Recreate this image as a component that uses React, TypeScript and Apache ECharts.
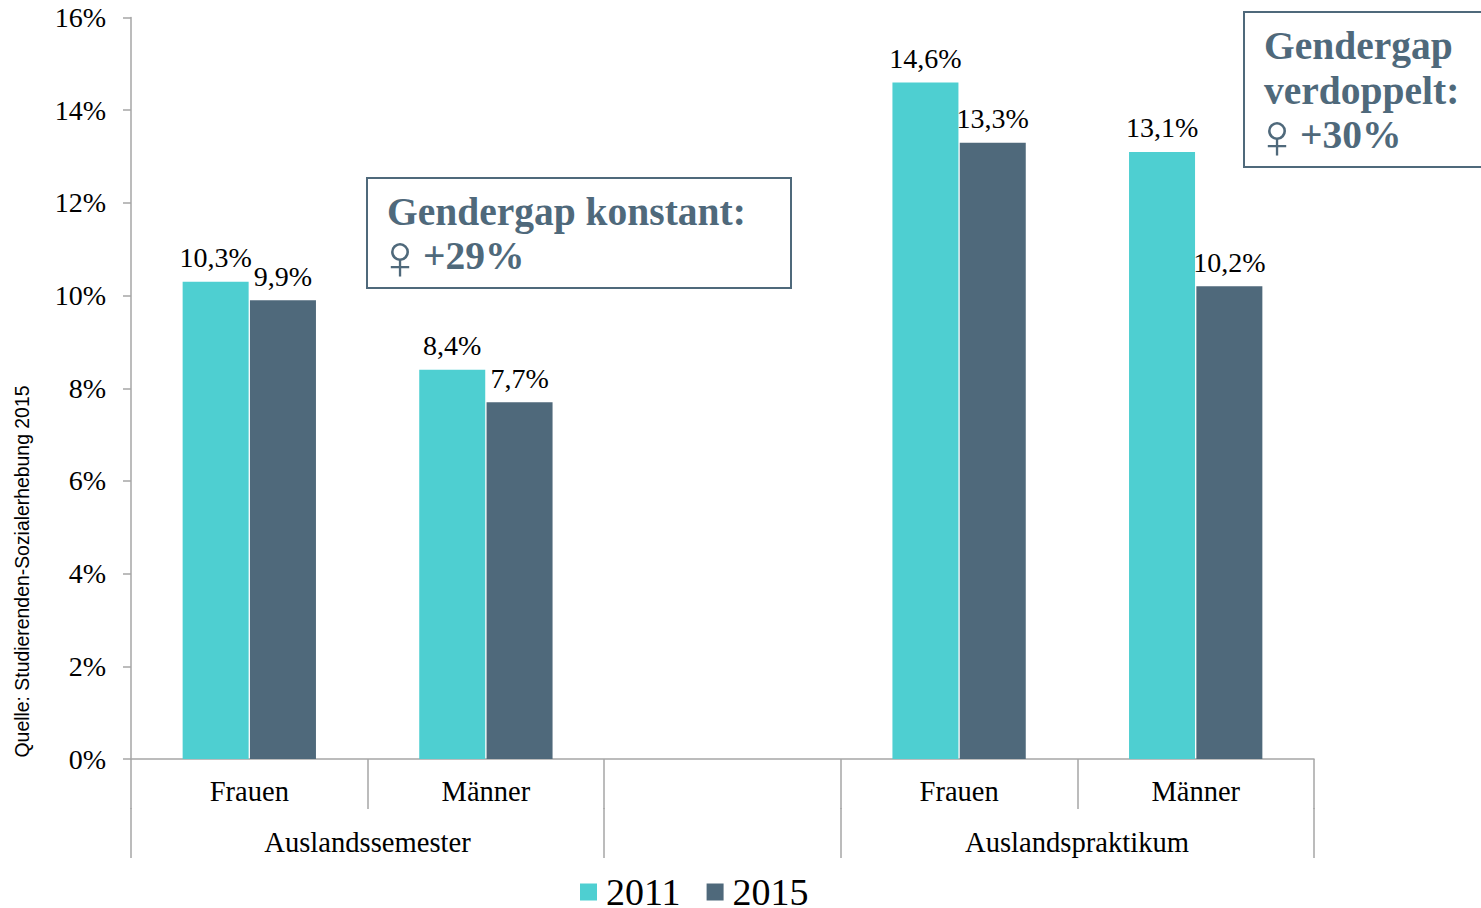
import React, { useEffect, useRef } from "react";
import * as echarts from "echarts";

const categories = ["Frauen", "Männer", "", "Frauen", "Männer"];
const values2011 = [10.3, 8.4, null, 14.6, 13.1];
const values2015 = [9.9, 7.7, null, 13.3, 10.2];
const groups = ["Auslandssemester", "Auslandspraktikum"];
const source = "Quelle: Studierenden-Sozialerhebung 2015";

const TEAL = "#4ECFD1";
const SLATE = "#4F697B";
const AXIS = "#A6A6A6";
const SERIF = "'Liberation Serif', serif";

const fmt = (p: any) => String(p.value).replace(".", ",") + "%";

const box = (x: number, y: number, w: number, h: number) => ({
  type: "rect", shape: { x, y, width: w, height: h },
  style: { fill: "#fff", stroke: SLATE, lineWidth: 2 },
});
const boldText = (x: number, y: number, text: string) => ({
  type: "text", x, y, z: 5,
  style: { text, fill: SLATE, font: `bold 39.5px ${SERIF}`, textVerticalAlign: "middle" },
});
const venus = (x: number, y: number) => ({
  type: "text", x, y, z: 5,
  style: { text: "♀", fill: SLATE, font: `200 64px 'DejaVu Sans'`, lineHeight: 34, textAlign: "center", textVerticalAlign: "middle" },
});
const vline = (x: number) => ({
  type: "line", shape: { x1: x, y1: 808, x2: x, y2: 858 },
  style: { stroke: AXIS, lineWidth: 1.5 },
});
const groupLabel = (x: number, text: string) => ({
  type: "text", x, y: 842,
  style: { text, fill: "#000", font: `28.6px ${SERIF}`, textAlign: "center", textVerticalAlign: "middle" },
});

export default function App() {
  const ref = useRef<HTMLDivElement>(null);
  useEffect(() => {
    document.body.style.margin = "0";
    const chart = echarts.init(ref.current!, null, { renderer: "svg" });
    const label = {
      show: true, position: "top" as const, distance: 10, color: "#000",
      fontFamily: SERIF, fontSize: 28, formatter: fmt,
    };
    chart.setOption({
      animation: false,
      backgroundColor: "#fff",
      grid: { left: 131, top: 17.5, width: 1183, height: 741.5, containLabel: false },
      legend: {
        left: 575, top: 868, itemWidth: 17, itemHeight: 17, itemGap: 26,
        icon: "rect",
        textStyle: { color: "#000", fontFamily: SERIF, fontSize: 38, lineHeight: 30, padding: [0, 0, 0, 4] },
        data: ["2011", "2015"],
      },
      xAxis: {
        type: "category", data: categories,
        axisLine: { lineStyle: { color: AXIS, width: 1.5 } },
        axisTick: { show: true, alignWithLabel: false, length: 50, lineStyle: { color: AXIS, width: 1.5 } },
        axisLabel: { color: "#000", fontFamily: SERIF, fontSize: 28.5, margin: 18, interval: 0 },
      },
      yAxis: {
        type: "value", min: 0, max: 16, interval: 2,
        splitLine: { show: false },
        axisLine: { show: true, lineStyle: { color: AXIS, width: 1.5 } },
        axisTick: { show: true, length: 8, lineStyle: { color: AXIS, width: 1.5 } },
        axisLabel: { color: "#000", fontFamily: SERIF, fontSize: 28, margin: 25, formatter: "{value}%" },
      },
      series: [
        { name: "2011", type: "bar", data: values2011, barWidth: 66, barGap: "2%", itemStyle: { color: TEAL }, label },
        { name: "2015", type: "bar", data: values2015, barWidth: 66, itemStyle: { color: SLATE }, label },
      ],
      graphic: [
        vline(131), vline(604), vline(841), vline(1314),
        groupLabel(367.5, groups[0]), groupLabel(1077, groups[1]),
        { type: "text", x: 22, y: 571.5, rotation: Math.PI / 2,
          style: { text: source, fill: "#000", font: `19.4px 'Liberation Sans'`, textAlign: "center", textVerticalAlign: "middle" } },
        box(367, 178, 424, 110),
        boldText(387, 211.5, "Gendergap konstant:"),
        venus(400, 257),
        boldText(423, 256, "+29%"),
        box(1244, 12, 250, 155),
        boldText(1264, 46, "Gendergap"),
        boldText(1264, 91, "verdoppelt:"),
        venus(1277, 136),
        boldText(1300, 135, "+30%"),
      ],
    });
    return () => chart.dispose();
  }, []);
  return <div ref={ref} style={{ width: 1481, height: 908 }} />;
}
